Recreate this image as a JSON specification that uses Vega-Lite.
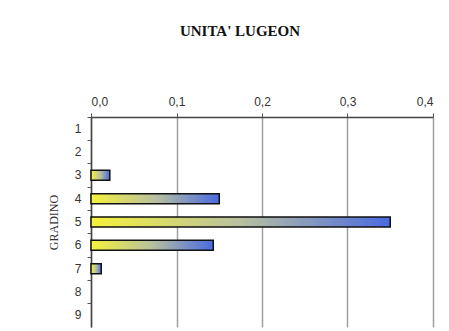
{
  "$schema": "https://vega.github.io/schema/vega-lite/v6.json",
  "width": 342,
  "height": 210,
  "autosize": {"type": "none"},
  "padding": {"left": 91, "top": 117, "right": 16, "bottom": 4},
  "background": "white",
  "title": {
    "text": "UNITA' LUGEON",
    "font": "Liberation Serif",
    "fontSize": 15,
    "fontWeight": "bold",
    "color": "#111",
    "anchor": "middle",
    "dx": -22,
    "offset": 56
  },
  "data": {
    "values": [
      {"gradino": "3", "lugeon": 0.022},
      {"gradino": "4", "lugeon": 0.150},
      {"gradino": "5", "lugeon": 0.350},
      {"gradino": "6", "lugeon": 0.143},
      {"gradino": "7", "lugeon": 0.012}
    ]
  },
  "mark": {
    "type": "bar",
    "size": 10,
    "stroke": "#111",
    "strokeWidth": 1.5,
    "color": {
      "gradient": "linear",
      "x1": 0, "y1": 0, "x2": 1, "y2": 0,
      "stops": [
        {"offset": 0, "color": "#f6f23a"},
        {"offset": 0.5, "color": "#b8c0a0"},
        {"offset": 1, "color": "#4a6ae0"}
      ]
    }
  },
  "encoding": {
    "y": {
      "field": "gradino",
      "type": "ordinal",
      "scale": {"domain": ["1","2","3","4","5","6","7","8","9"], "paddingInner": 0, "paddingOuter": 0},
      "axis": {
        "title": "GRADINO",
        "titleFont": "Liberation Serif",
        "titleFontSize": 12,
        "titleFontWeight": "normal",
        "titleColor": "#333",
        "titlePadding": 14,
        "labelFont": "Liberation Sans",
        "labelFontSize": 12,
        "labelColor": "#333",
        "labelPadding": 6,
        "bandPosition": 0,
        "tickSize": 4,
        "tickColor": "#555",
        "domainColor": "#444",
        "domainWidth": 1.5,
        "grid": false
      }
    },
    "x": {
      "field": "lugeon",
      "type": "quantitative",
      "scale": {"domain": [0, 0.4], "nice": false},
      "axis": {
        "orient": "top",
        "title": null,
        "values": [0, 0.1, 0.2, 0.3, 0.4],
        "labelExpr": "replace(format(datum.value, '.1f'), '.', ',')",
        "labelFont": "Liberation Sans",
        "labelFontSize": 12,
        "labelColor": "#333",
        "labelPadding": 5,
        "tickSize": 4,
        "tickColor": "#555",
        "domainColor": "#444",
        "domainWidth": 1.5,
        "grid": true,
        "gridColor": "#a0a0a0",
        "gridWidth": 1.5
      }
    }
  },
  "config": {"view": {"stroke": null}}
}
